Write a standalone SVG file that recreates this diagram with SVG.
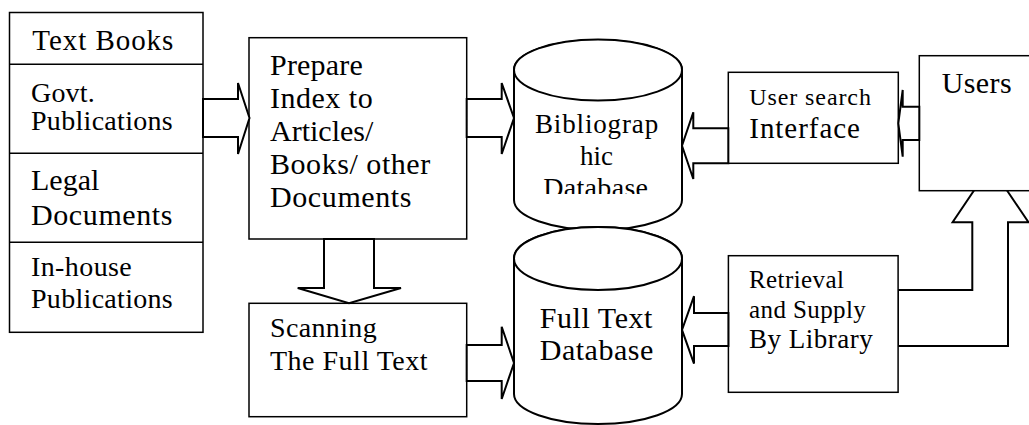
<svg xmlns="http://www.w3.org/2000/svg" width="1029" height="425" viewBox="0 0 1029 425">
<style>
.box{fill:#fff;stroke:#000;stroke-width:1.5}
.cyl{fill:#fff;stroke:#000;stroke-width:2}
.arr{fill:#fff;stroke:#000;stroke-width:2;stroke-linejoin:miter}
.ln{stroke:#000;stroke-width:1.5;fill:none}
</style>
<defs>
<clipPath id="clipBib"><rect x="514" y="100" width="168" height="94"/></clipPath>
</defs>
<rect width="1029" height="425" fill="#fff"/>

<g id="connectors">
<polygon class="arr" points="898,290 972.3,290 972.3,222.3 952.6,222.3 990.5,166 1028.5,222.3 1008,222.3 1008,346 898,346"/>
</g>

<g id="sources">
<rect class="box" x="9.5" y="12.5" width="193.5" height="319.8"/>
<line class="ln" x1="9.5" y1="64.3" x2="203" y2="64.3"/>
<line class="ln" x1="9.5" y1="153.3" x2="203" y2="153.3"/>
<line class="ln" x1="9.5" y1="242.3" x2="203" y2="242.3"/>
<text x="32.3" y="50" font-family="Liberation Serif" font-size="29" letter-spacing="0.95">Text Books</text>
<text x="31" y="101.7" font-family="Liberation Serif" font-size="28" letter-spacing="0.2">Govt.</text>
<text x="31" y="130" font-family="Liberation Serif" font-size="28" letter-spacing="0.3">Publications</text>
<text x="31" y="190" font-family="Liberation Serif" font-size="30">Legal</text>
<text x="31" y="225" font-family="Liberation Serif" font-size="30" letter-spacing="0.6">Documents</text>
<text x="31" y="276" font-family="Liberation Serif" font-size="28" letter-spacing="0.4">In-house</text>
<text x="31" y="308" font-family="Liberation Serif" font-size="28" letter-spacing="0.3">Publications</text>
</g>

<g id="prepare">
<rect class="box" x="249" y="37.7" width="217.7" height="201.3"/>
<text x="270" y="75" font-family="Liberation Serif" font-size="30" letter-spacing="0.2">Prepare</text>
<text x="270" y="108" font-family="Liberation Serif" font-size="30" letter-spacing="0.5">Index to</text>
<text x="270" y="141" font-family="Liberation Serif" font-size="30">Articles/</text>
<text x="270" y="174" font-family="Liberation Serif" font-size="30" letter-spacing="0.55">Books/ other</text>
<text x="270" y="207" font-family="Liberation Serif" font-size="30" letter-spacing="0.6">Documents</text>
</g>

<g id="scanning">
<rect class="box" x="249" y="303.3" width="217.7" height="113.4"/>
<text x="270" y="337.3" font-family="Liberation Serif" font-size="28" letter-spacing="0.35">Scanning</text>
<text x="270" y="370" font-family="Liberation Serif" font-size="28" letter-spacing="0.5">The Full Text</text>
</g>

<g id="bibliographic-db">
<path class="cyl" d="M514,70 L514,200 A84,30 0 0 0 682,200 L682,70 A84,30 0 0 0 514,70 Z"/>
<ellipse class="cyl" cx="598" cy="70" rx="84" ry="30.5"/>
<text x="535" y="133.3" font-family="Liberation Serif" font-size="27" letter-spacing="0.85">Bibliograp</text>
<text x="580" y="165" font-family="Liberation Serif" font-size="27">hic</text>
<text x="543.3" y="197" font-family="Liberation Serif" font-size="28" letter-spacing="0.3" clip-path="url(#clipBib)">Database</text>
</g>

<g id="fulltext-db">
<path class="cyl" d="M514,258.5 L514,394 A84,30 0 0 0 682,394 L682,258.5 A84,31.5 0 0 0 514,258.5 Z"/>
<ellipse class="cyl" cx="598" cy="258.5" rx="84" ry="31.5"/>
<text x="539.8" y="327.5" font-family="Liberation Serif" font-size="30" letter-spacing="0.55">Full Text</text>
<text x="539.8" y="360.3" font-family="Liberation Serif" font-size="30" letter-spacing="0.5">Database</text>
</g>

<g id="interface">
<rect class="box" x="728.3" y="72.3" width="170" height="91"/>
<text x="749.3" y="105" font-family="Liberation Serif" font-size="24" letter-spacing="0.9">User search</text>
<text x="749.3" y="138" font-family="Liberation Serif" font-size="29" letter-spacing="0.95">Interface</text>
</g>

<g id="retrieval">
<rect class="box" x="728.4" y="255.7" width="169.7" height="136.6"/>
<text x="749" y="288.4" font-family="Liberation Serif" font-size="25" letter-spacing="0.4">Retrieval</text>
<text x="749" y="318" font-family="Liberation Serif" font-size="25" letter-spacing="0.4">and Supply</text>
<text x="749" y="348.4" font-family="Liberation Serif" font-size="27" letter-spacing="0.5">By Library</text>
</g>

<g id="users">
<rect class="box" x="919.3" y="55.7" width="130" height="135"/>
<text x="941.7" y="93" font-family="Liberation Serif" font-size="30" letter-spacing="0.4">Users</text>
</g>

<g id="connectors-arrows">
<polygon class="arr" points="203,99 238,99 238,83 249.5,118 238,154 238,137 203,137"/>
<polygon class="arr" points="466.7,99 501.7,99 501.7,83 514,118 501.7,154 501.7,137 466.7,137"/>
<polygon class="arr" points="324,239 324,288 297.7,288 349,303.3 401,288 374,288 374,239"/>
<polygon class="arr" points="466.7,345 501.7,345 501.7,326.7 514,363 501.7,399 501.7,381 466.7,381"/>
<polygon class="arr" points="728.3,128.3 693.3,128.3 693.3,112.3 682,145.7 693.3,179 693.3,163.3 728.3,163.3"/>
<polygon class="arr" points="919.3,106.7 902.7,106.7 902.7,90 898.3,123.3 902.7,156.7 902.7,140 919.3,140"/>
<polygon class="arr" points="728.4,313 694,313 694,296.2 682,329.9 694,363.6 694,346 728.4,346"/>
</g>
</svg>
